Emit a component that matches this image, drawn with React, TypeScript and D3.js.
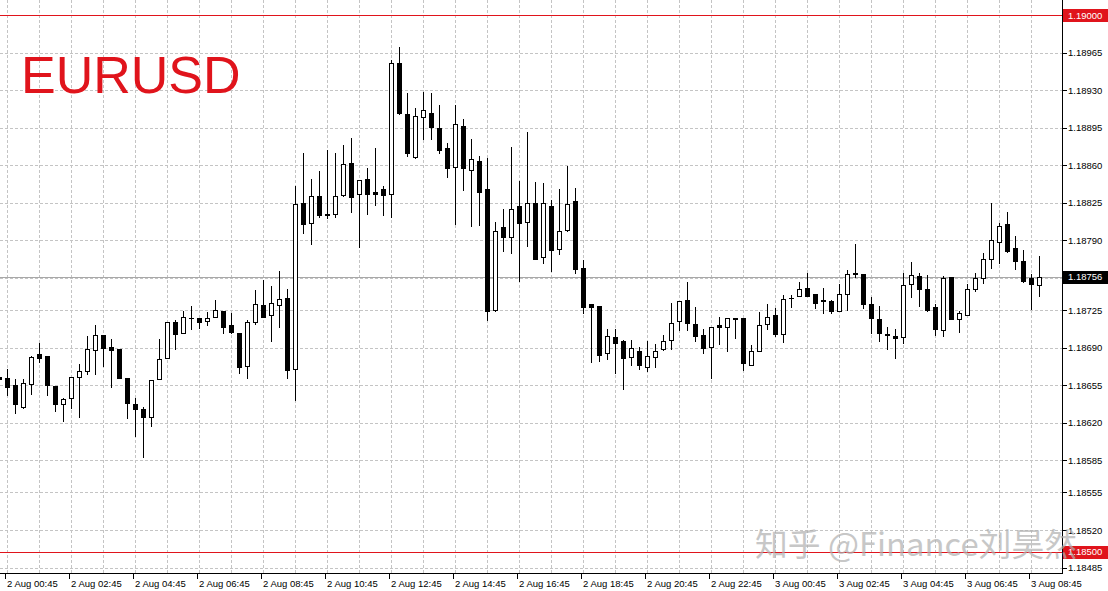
import React from 'react';
import * as d3 from 'd3';

const W = 1108;
const H = 591;

// 15-minute candles, first one (index 0) is 2 Aug 00:30 (partially visible)
const opens = [
  1.18663, 1.18662, 1.18655, 1.18635, 1.18656, 1.18684, 1.18682, 1.18654, 1.18637, 1.18643,
  1.18663, 1.18668, 1.18688, 1.18702, 1.18691, 1.18689, 1.18662, 1.18637, 1.18633, 1.18625,
  1.18661, 1.18680, 1.18714, 1.18704, 1.18718, 1.18718, 1.18715, 1.18719, 1.18724, 1.18711,
  1.18704, 1.18673, 1.18714, 1.18730, 1.18720, 1.18730, 1.18736, 1.18670, 1.18825, 1.18806,
  1.18831, 1.18815, 1.18815, 1.18832, 1.18862, 1.18833, 1.18847, 1.18835, 1.18838, 1.18833,
  1.18955, 1.18908, 1.18868, 1.18905, 1.18909, 1.18895, 1.18876, 1.18858, 1.18897, 1.18856,
  1.18864, 1.18838, 1.18725, 1.18802, 1.18793, 1.18822, 1.18807, 1.18825, 1.18774, 1.18822,
  1.18782, 1.18800, 1.18827, 1.18764, 1.18731, 1.18729, 1.18685, 1.18700, 1.18696, 1.18681,
  1.18687, 1.18672, 1.18681, 1.18689, 1.18697, 1.18715, 1.18734, 1.18712, 1.18702, 1.18691,
  1.18711, 1.18709, 1.18718, 1.18718, 1.18674, 1.18687, 1.18712, 1.18720, 1.18703, 1.18736,
  1.18738, 1.18746, 1.18740, 1.18734, 1.18733, 1.18724, 1.18740, 1.18760, 1.18759, 1.18731,
  1.18717, 1.18703, 1.18701, 1.18700, 1.18749, 1.18757, 1.18745, 1.18728, 1.18706, 1.18756,
  1.18717, 1.18720, 1.18745, 1.18755, 1.18773, 1.18788, 1.18805, 1.18783, 1.18771, 1.18755,
  1.18748,
];
const highs = [
  1.18664, 1.18670, 1.18661, 1.18661, 1.18682, 1.18694, 1.18682, 1.18654, 1.18643, 1.18663,
  1.18675, 1.18701, 1.18711, 1.18702, 1.18698, 1.18689, 1.18662, 1.18643, 1.18635, 1.18660,
  1.18698, 1.18714, 1.18716, 1.18724, 1.18729, 1.18718, 1.18723, 1.18734, 1.18724, 1.18722,
  1.18704, 1.18716, 1.18744, 1.18753, 1.18747, 1.18761, 1.18745, 1.18841, 1.18871, 1.18847,
  1.18855, 1.18874, 1.18871, 1.18879, 1.18885, 1.18846, 1.18857, 1.18876, 1.18841, 1.18958,
  1.18970, 1.18927, 1.18913, 1.18928, 1.18927, 1.18916, 1.18881, 1.18916, 1.18903, 1.18884,
  1.18869, 1.18867, 1.18807, 1.18819, 1.18877, 1.18845, 1.18891, 1.18844, 1.18843, 1.18828,
  1.18838, 1.18859, 1.18839, 1.18772, 1.18731, 1.18729, 1.18707, 1.18707, 1.18697, 1.18697,
  1.18691, 1.18696, 1.18693, 1.18702, 1.18732, 1.18733, 1.18751, 1.18728, 1.18707, 1.18709,
  1.18719, 1.18718, 1.18718, 1.18718, 1.18692, 1.18723, 1.18731, 1.18727, 1.18739, 1.18739,
  1.18751, 1.18760, 1.18740, 1.18746, 1.18734, 1.18749, 1.18762, 1.18787, 1.18759, 1.18737,
  1.18729, 1.18709, 1.18707, 1.18760, 1.18770, 1.18760, 1.18758, 1.18731, 1.18757, 1.18756,
  1.18724, 1.18749, 1.18760, 1.18778, 1.18825, 1.18806, 1.18816, 1.18794, 1.18781, 1.18759,
  1.18775,
];
const lows = [
  1.18659, 1.18646, 1.18629, 1.18634, 1.18647, 1.18677, 1.18646, 1.18631, 1.18622, 1.18634,
  1.18625, 1.18665, 1.18665, 1.18673, 1.18653, 1.18662, 1.18624, 1.18608, 1.18588, 1.18617,
  1.18661, 1.18680, 1.18689, 1.18704, 1.18707, 1.18708, 1.18711, 1.18719, 1.18704, 1.18704,
  1.18666, 1.18662, 1.18712, 1.18719, 1.18696, 1.18709, 1.18662, 1.18641, 1.18797, 1.18787,
  1.18812, 1.18811, 1.18812, 1.18831, 1.18816, 1.18784, 1.18815, 1.18823, 1.18814, 1.18812,
  1.18908, 1.18869, 1.18867, 1.18884, 1.18884, 1.18871, 1.18849, 1.18805, 1.18837, 1.18803,
  1.18804, 1.18716, 1.18724, 1.18780, 1.18778, 1.18752, 1.18785, 1.18773, 1.18769, 1.18761,
  1.18777, 1.18799, 1.18760, 1.18722, 1.18677, 1.18678, 1.18679, 1.18666, 1.18651, 1.18674,
  1.18670, 1.18668, 1.18672, 1.18688, 1.18689, 1.18706, 1.18706, 1.18696, 1.18685, 1.18662,
  1.18693, 1.18687, 1.18699, 1.18669, 1.18674, 1.18687, 1.18707, 1.18701, 1.18695, 1.18728,
  1.18738, 1.18738, 1.18727, 1.18722, 1.18722, 1.18724, 1.18725, 1.18756, 1.18727, 1.18704,
  1.18696, 1.18689, 1.18680, 1.18694, 1.18737, 1.18729, 1.18724, 1.18702, 1.18701, 1.18717,
  1.18705, 1.18720, 1.18743, 1.18750, 1.18764, 1.18769, 1.18779, 1.18763, 1.18751, 1.18726,
  1.18738,
];
const closes = [
  1.18661, 1.18653, 1.18637, 1.18657, 1.18681, 1.18680, 1.18655, 1.18637, 1.18642, 1.18663,
  1.18668, 1.18689, 1.18702, 1.18690, 1.18688, 1.18662, 1.18638, 1.18633, 1.18625, 1.18660,
  1.18679, 1.18714, 1.18703, 1.18719, 1.18718, 1.18714, 1.18718, 1.18725, 1.18709, 1.18705,
  1.18672, 1.18714, 1.18731, 1.18719, 1.18732, 1.18735, 1.18669, 1.18824, 1.18805, 1.18831,
  1.18814, 1.18814, 1.18831, 1.18861, 1.18830, 1.18846, 1.18833, 1.18833, 1.18832, 1.18955,
  1.18909, 1.18871, 1.18906, 1.18911, 1.18896, 1.18874, 1.18857, 1.18898, 1.18857, 1.18866,
  1.18835, 1.18724, 1.18799, 1.18793, 1.18819, 1.18806, 1.18825, 1.18773, 1.18825, 1.18781,
  1.18799, 1.18824, 1.18763, 1.18728, 1.18728, 1.18683, 1.18701, 1.18694, 1.18680, 1.18690,
  1.18674, 1.18682, 1.18687, 1.18696, 1.18713, 1.18733, 1.18713, 1.18701, 1.18690, 1.18709,
  1.18709, 1.18718, 1.18717, 1.18676, 1.18687, 1.18711, 1.18719, 1.18703, 1.18735, 1.18736,
  1.18745, 1.18738, 1.18732, 1.18733, 1.18724, 1.18740, 1.18759, 1.18759, 1.18731, 1.18718,
  1.18704, 1.18702, 1.18699, 1.18748, 1.18758, 1.18745, 1.18725, 1.18707, 1.18755, 1.18717,
  1.18722, 1.18745, 1.18755, 1.18773, 1.18790, 1.18803, 1.18780, 1.18771, 1.18752, 1.18749,
  1.18756,
];

const timeLabels = [
  '2 Aug 00:45', '2 Aug 02:45', '2 Aug 04:45', '2 Aug 06:45', '2 Aug 08:45', '2 Aug 10:45',
  '2 Aug 12:45', '2 Aug 14:45', '2 Aug 16:45', '2 Aug 18:45', '2 Aug 20:45', '2 Aug 22:45',
  '3 Aug 00:45', '3 Aug 02:45', '3 Aug 04:45', '3 Aug 06:45', '3 Aug 08:45',
];
const priceTicks = [
  1.18965, 1.18930, 1.18895, 1.18860, 1.18825, 1.18790, 1.18755, 1.18725, 1.18690,
  1.18655, 1.18620, 1.18585, 1.18555, 1.18520, 1.18485,
];
const levelLines = [1.19000, 1.18500];
const currentPrice = 1.18756;
const symbol = 'EURUSD';
const watermark = '知乎 @Finance刘昊然';

const PLOT_RIGHT = 1062;
const PLOT_BOTTOM = 573;
const FONT = '"Liberation Sans", Arial, sans-serif';
const RED = '#e0141c';

export default function App() {
  const x = d3.scaleLinear().domain([0, 1]).range([-1, 7]);
  const y = d3.scaleLinear().domain([1.185, 1.19]).range([551.5, 15]);
  const fmt = d3.format('.5f');
  const n = opens.length;

  const vGrid: number[] = [];
  for (let i = 1; x(i) < PLOT_RIGHT; i += 4) vGrid.push(i);

  const candles = d3.range(n).map((i) => {
    const cx = Math.round(x(i));
    const o = opens[i], c = closes[i], h = highs[i], l = lows[i];
    const top = Math.round(y(Math.max(o, c)));
    const bot = Math.round(y(Math.min(o, c)));
    const yh = Math.round(y(h));
    const yl = Math.round(y(l));
    const bull = c > o;
    return (
      <g key={i}>
        <line x1={cx + 0.5} x2={cx + 0.5} y1={yh} y2={yl + 1} stroke="#000" strokeWidth={1} />
        {bot - top < 1 ? (
          <line x1={cx - 2} x2={cx + 3} y1={top + 0.5} y2={top + 0.5} stroke="#000" strokeWidth={1} />
        ) : (
          <rect x={cx - 1.5} y={top + 0.5} width={4} height={bot - top}
            fill={bull ? '#fff' : '#000'} stroke="#000" strokeWidth={1} />
        )}
      </g>
    );
  });

  return (
    <svg width={W} height={H} style={{ position: 'absolute', left: 0, top: 0, background: '#fff' }}
      shapeRendering="crispEdges">
      <rect x={0} y={0} width={W} height={H} fill="#fff" />
      {/* grid */}
      {priceTicks.map((v) => (
        <line key={'h' + v} x1={0} x2={PLOT_RIGHT} y1={Math.round(y(v)) + 0.5} y2={Math.round(y(v)) + 0.5}
          stroke="#c4c4c4" strokeDasharray="3,2" />
      ))}
      {vGrid.map((i) => (
        <line key={'v' + i} x1={Math.round(x(i)) + 0.5} x2={Math.round(x(i)) + 0.5} y1={0} y2={PLOT_BOTTOM}
          stroke="#c4c4c4" strokeDasharray="3,2" />
      ))}
      {/* current price line */}
      <line x1={0} x2={PLOT_RIGHT} y1={Math.round(y(currentPrice)) + 0.5} y2={Math.round(y(currentPrice)) + 0.5}
        stroke="#a8a8a8" />
      {/* level lines */}
      {levelLines.map((v) => (
        <line key={'l' + v} x1={0} x2={PLOT_RIGHT} y1={Math.round(y(v)) + 0.5} y2={Math.round(y(v)) + 0.5}
          stroke={RED} />
      ))}
      {candles}
      {/* title */}
      <text x={21} y={93} fontFamily={FONT} fontSize={52} fill={RED} shapeRendering="auto">{symbol}</text>
      {/* axes */}
      <line x1={PLOT_RIGHT + 0.5} x2={PLOT_RIGHT + 0.5} y1={0} y2={PLOT_BOTTOM + 1} stroke="#000" />
      <line x1={0} x2={PLOT_RIGHT} y1={PLOT_BOTTOM + 0.5} y2={PLOT_BOTTOM + 0.5} stroke="#000" />
      {priceTicks.map((v) => (
        <g key={'t' + v}>
          <line x1={PLOT_RIGHT} x2={PLOT_RIGHT + 5} y1={Math.round(y(v)) + 0.5} y2={Math.round(y(v)) + 0.5} stroke="#000" />
          <text x={PLOT_RIGHT + 6} y={y(v) + 3.5} fontFamily={FONT} fontSize={9.5} fill="#000">{fmt(v)}</text>
        </g>
      ))}
      {timeLabels.map((t, k) => {
        const cx = Math.round(x(1 + 8 * k));
        return (
          <g key={'x' + k}>
            <line x1={cx - 1.5} x2={cx - 1.5} y1={PLOT_BOTTOM} y2={PLOT_BOTTOM + 6} stroke="#000" />
            <text x={cx} y={587} fontFamily={FONT} fontSize={9.5} fill="#000">{t}</text>
          </g>
        );
      })}
      {/* level labels */}
      {levelLines.map((v) => (
        <g key={'ll' + v}>
          <rect x={PLOT_RIGHT + 1} y={Math.round(y(v)) - 6} width={W - PLOT_RIGHT - 1} height={13} fill={RED} />
          <text x={PLOT_RIGHT + 6} y={y(v) + 3.5} fontFamily={FONT} fontSize={9.5} fill="#fff">{fmt(v)}</text>
        </g>
      ))}
      <g>
        <rect x={PLOT_RIGHT + 1} y={Math.round(y(currentPrice)) - 6} width={W - PLOT_RIGHT - 1} height={13} fill="#000" />
        <text x={PLOT_RIGHT + 6} y={y(currentPrice) + 3.5} fontFamily={FONT} fontSize={9.5} fill="#fff">{fmt(currentPrice)}</text>
      </g>
      {/* watermark */}
      <text x={755} y={556} fontFamily='"Noto Sans CJK SC", sans-serif' fontSize={32} fill="#b0b0b0"
        opacity={0.7} textLength={322} lengthAdjust="spacingAndGlyphs" shapeRendering="auto">{watermark}</text>
    </svg>
  );
}
